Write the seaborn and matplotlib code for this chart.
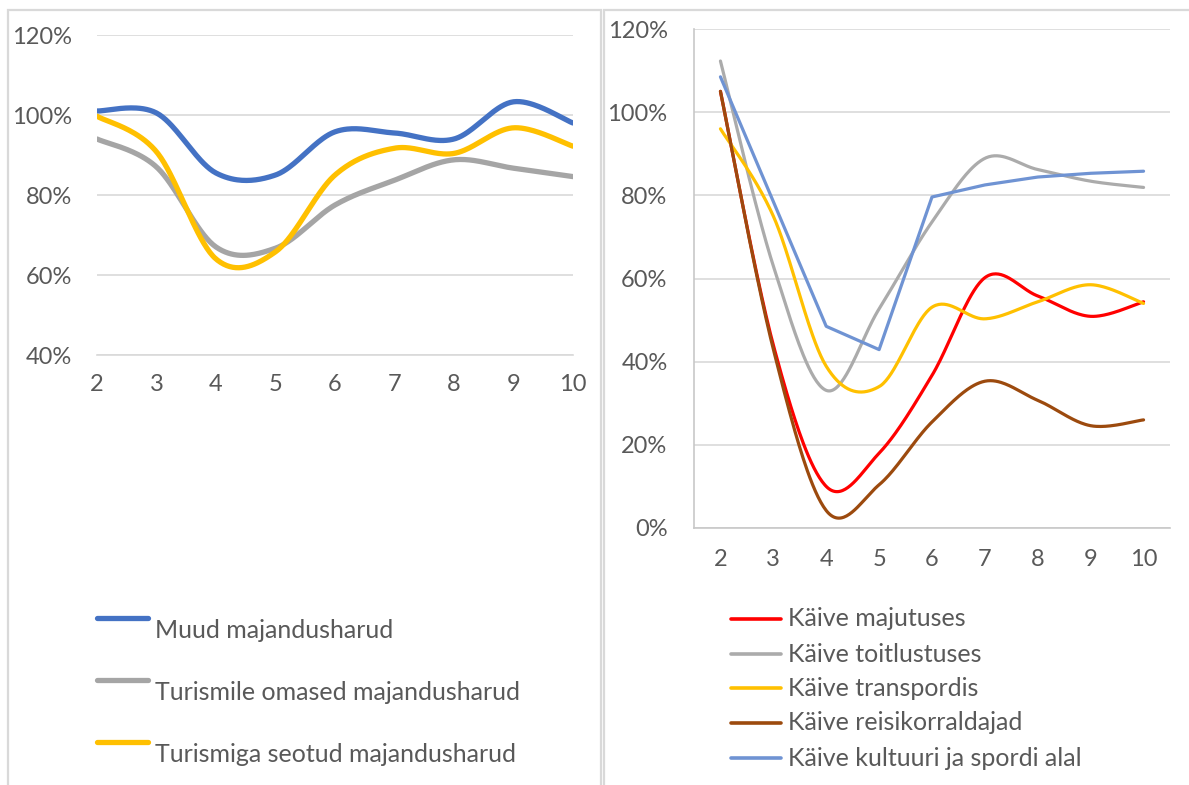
import numpy as np
import pandas as pd
import matplotlib
matplotlib.use("Agg")
import matplotlib.pyplot as plt
import seaborn as sns
from matplotlib.lines import Line2D
from matplotlib.patches import Rectangle
from matplotlib.ticker import FuncFormatter, FixedLocator

# ---------------- data ----------------
months = [2, 3, 4, 5, 6, 7, 8, 9, 10]

# left panel (%)
muud = [101.0, 100.5, 85.5, 85.0, 95.8, 95.5, 94.0, 103.3, 98.0]
turismile_omased = [94.0, 87.0, 67.0, 66.7, 77.5, 83.7, 88.8, 86.7, 84.6]
turismiga_seotud = [99.7, 90.8, 64.0, 65.8, 85.0, 91.7, 90.4, 96.8, 92.2]
left_labels = ["Muud majandusharud", "Turismile omased majandusharud",
               "Turismiga seotud majandusharud"]

# right panel (%)
majutus = [105.0, 44.0, 10.0, 18.0, 36.7, 60.2, 55.8, 50.9, 54.4]
toitlustus = [112.3, 63.0, 33.1, 52.7, 73.6, 88.9, 86.2, 83.4, 81.9]
transport = [96.0, 75.0, 38.9, 34.0, 53.1, 50.3, 54.4, 58.5, 54.0]
reisikorraldajad = [105.0, 43.0, 4.2, 10.4, 25.5, 35.3, 30.7, 24.6, 26.0]
kultuur_sport = [108.5, 78.5, 48.5, 42.9, 79.6, 82.5, 84.4, 85.3, 85.8]
right_labels = ["Käive majutuses", "Käive toitlustuses", "Käive transpordis",
                "Käive reisikorraldajad", "Käive kultuuri ja spordi alal"]

left_yticks = [40, 60, 80, 100, 120]
right_yticks = [0, 20, 40, 60, 80, 100, 120]

# ---------------- style ----------------
sns.set_theme(style="white")
plt.rcParams["font.family"] = ["Lato", "DejaVu Sans"]
TXT = "#595959"
GRID = "#D9D9D9"
TICK_FS = 17
LEG_FS = 18

W, H = 1189, 785
fig = plt.figure(figsize=(W / 100, H / 100), dpi=100)
fig.patch.set_facecolor("white")


def fx(px):
    return px / W


def fy(py):
    return 1 - py / H


def axes_px(l, t, r, b):
    return fig.add_axes([fx(l), fy(b), fx(r) - fx(l), (b - t) / H])


def smooth(x, y, n=40):
    """Excel-style smoothed line (Catmull-Rom Bezier through the points)."""
    P = np.column_stack([np.asarray(x, float), np.asarray(y, float)])
    P_ext = np.vstack([P[0], P, P[-1]])
    out = []
    for i in range(len(P) - 1):
        p0, p1, p2, p3 = P_ext[i], P_ext[i + 1], P_ext[i + 2], P_ext[i + 3]
        c1 = p1 + (p2 - p0) / 6
        c2 = p2 - (p3 - p1) / 6
        t = np.linspace(0, 1, n)[:, None]
        seg = ((1 - t) ** 3) * p1 + 3 * ((1 - t) ** 2) * t * c1 + \
            3 * (1 - t) * t ** 2 * c2 + t ** 3 * p2
        out.append(seg if i == 0 else seg[1:])
    S = np.vstack(out)
    return S[:, 0], S[:, 1]


pct = FuncFormatter(lambda v, p: f"{int(round(v))}%")

# ---------------- panel frames ----------------
fig.add_artist(Rectangle((fx(8), fy(800)), fx(601) - fx(8), fy(10) - fy(800),
                         transform=fig.transFigure, fill=False,
                         edgecolor=GRID, lw=1.6))
fig.add_artist(Rectangle((fx(604), fy(800)), fx(1200) - fx(604), fy(10) - fy(800),
                         transform=fig.transFigure, fill=False,
                         edgecolor=GRID, lw=1.6))

# ---------------- left panel ----------------
axL = axes_px(97, 35, 573, 355)
left_series = [(muud, "#4472C4"), (turismile_omased, "#A5A5A5"),
               (turismiga_seotud, "#FFC000")]
for vals, col in left_series:
    xs, ys = smooth(months, vals)
    sns.lineplot(x=xs, y=ys, ax=axL, color=col, lw=3.8, sort=False,
                 estimator=None, solid_capstyle="round")
axL.set_xlim(2, 10)
axL.set_ylim(40, 120)
axL.yaxis.set_major_locator(FixedLocator(left_yticks))
axL.yaxis.set_major_formatter(pct)
axL.set_xticks(months)
axL.set_xticklabels([str(m) for m in months])
axL.grid(axis="y", color=GRID, lw=1.2)
axL.grid(axis="x", visible=False)
for s in ["left", "right", "top"]:
    axL.spines[s].set_visible(False)
axL.spines["bottom"].set_color(GRID)
axL.spines["bottom"].set_linewidth(1.2)
axL.tick_params(axis="y", length=0, pad=18, labelsize=TICK_FS, labelcolor=TXT)
axL.tick_params(axis="x", length=0, pad=14, labelsize=TICK_FS, labelcolor=TXT)
axL.set_xlabel("")
axL.set_ylabel("")
axL.set_facecolor("none")

# ---------------- right panel ----------------
axR = axes_px(694, 29, 1170, 528)
right_series = [(majutus, "#FF0000", True), (toitlustus, "#ABABAB", True),
                (transport, "#FFC000", True), (reisikorraldajad, "#9C4A0E", True),
                (kultuur_sport, "#6F93D3", False)]
for vals, col, sm in right_series:
    if sm:
        xs, ys = smooth(months, vals)
    else:
        xs, ys = np.asarray(months, float), np.asarray(vals, float)
    sns.lineplot(x=xs, y=ys, ax=axR, color=col, lw=2.3, sort=False,
                 estimator=None, solid_capstyle="round")
axR.set_xlim(1.5, 10.5)
axR.set_ylim(0, 120)
axR.yaxis.set_major_locator(FixedLocator(right_yticks))
axR.yaxis.set_major_formatter(pct)
axR.set_xticks(months)
axR.set_xticklabels([str(m) for m in months])
axR.grid(axis="y", color=GRID, lw=1.2)
axR.grid(axis="x", visible=False)
for s in ["right", "top"]:
    axR.spines[s].set_visible(False)
for s in ["left", "bottom"]:
    axR.spines[s].set_color("#C8C8C8")
    axR.spines[s].set_linewidth(1.2)
axR.tick_params(axis="y", length=0, pad=19, labelsize=TICK_FS, labelcolor=TXT)
axR.tick_params(axis="x", length=0, pad=15, labelsize=TICK_FS, labelcolor=TXT)
axR.set_xlabel("")
axR.set_ylabel("")
axR.set_facecolor("none")

# ---------------- legends ----------------
left_leg_y = [618, 680, 742]
for (vals, col), lab, ly in zip(left_series, left_labels, left_leg_y):
    fig.add_artist(Line2D([fx(97), fx(148)], [fy(ly), fy(ly)], color=col,
                          lw=3.8, solid_capstyle="round",
                          transform=fig.transFigure))
    fig.text(fx(155), fy(ly + 12), lab, fontsize=LEG_FS, color=TXT,
             ha="left", va="center")

right_leg_y = [619, 654, 688, 723, 758]
for (vals, col, sm), lab, ly in zip(right_series, right_labels, right_leg_y):
    fig.add_artist(Line2D([fx(731), fx(781)], [fy(ly), fy(ly)], color=col,
                          lw=2.6, solid_capstyle="round",
                          transform=fig.transFigure))
    fig.text(fx(788), fy(ly), lab, fontsize=LEG_FS, color=TXT,
             ha="left", va="center")

fig.savefig("out.png", dpi=100, facecolor="white")
